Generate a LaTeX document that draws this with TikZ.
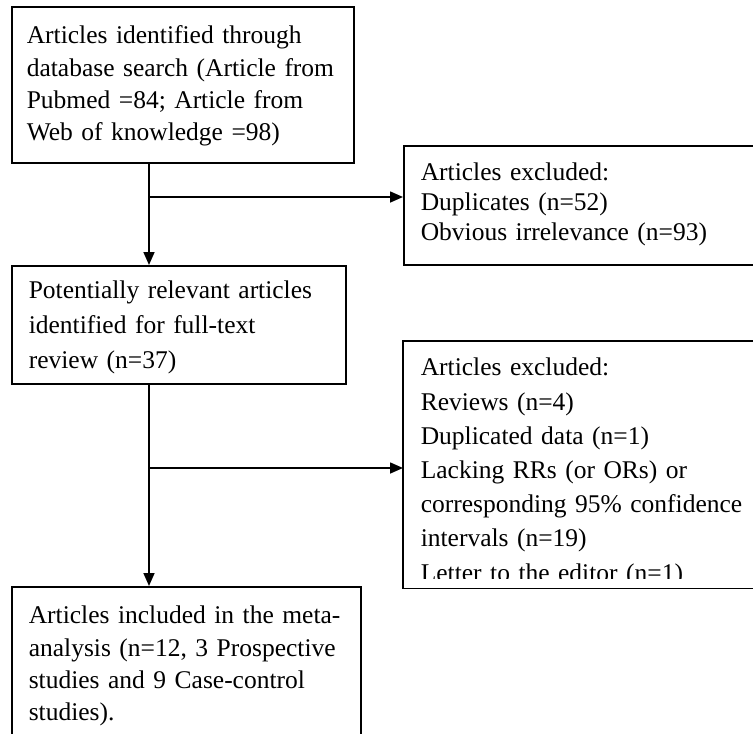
\documentclass[tikz,border=0pt]{standalone}
\usepackage{fontspec}
\setmainfont{Liberation Serif}
\usetikzlibrary{arrows.meta}
\newcommand{\boxfont}[1]{\fontsize{25.5}{#1}\selectfont}
\tikzstyle{flowbox} = [rectangle, draw=black, line width=1.6pt, align=left, anchor=north west, inner xsep=17pt, inner ysep=0pt]
\tikzstyle{arrow} = [line width=1.6pt, -{Triangle[length=13pt,width=11pt]}]
\tikzstyle{frame} = [line width=1.6pt]

\begin{document}
\begin{tikzpicture}[x=1pt, y=1pt]
\useasboundingbox (0,0) rectangle (753,-734);
\clip (0,0) rectangle (753,-734);
\node (search) [flowbox, inner xsep=15pt, text width=312pt, text height=37pt, text depth=119pt, font=\boxfont{32.3}] at (11,-6) {Articles identified through\\database search (Article from\\Pubmed =84; Article from\\Web of knowledge =98)};
\node (excl1) [flowbox, text width=333pt, text height=35pt, text depth=84pt, font=\boxfont{30}] at (403,-145) {Articles excluded:\\Duplicates (n=52)\\Obvious irrelevance (n=93)};
\node (fulltext) [flowbox, text width=300pt, text height=33pt, text depth=85pt, font=\boxfont{35}] at (11,-265) {Potentially relevant articles\\identified for full-text\\review (n=37)};
\begin{scope}
\clip (395,-330) rectangle (780,-578);
\node (excl2) [flowbox, draw=none, text width=333pt, text height=34pt, text depth=212pt, font=\boxfont{34.2}] at (403,-341) {Articles excluded:\\Reviews (n=4)\\Duplicated data (n=1)\\Lacking RRs (or ORs) or\\corresponding 95\% confidence\\intervals (n=19)\\Letter to the editor (n=1)};
\end{scope}
\draw [frame] (excl2.north west) rectangle (excl2.south east);
\node (included) [flowbox, text width=315pt, text height=37pt, text depth=200pt, font=\boxfont{32.3}] at (11,-586) {Articles included in the meta-\\analysis (n=12, 3 Prospective\\studies and 9 Case-control\\studies).};
\coordinate (split1) at (149,-197);
\coordinate (split2) at (149,-468);
\draw [arrow] (search.south -| split1) -- (fulltext.north -| split1);
\draw [arrow] (split1) -- (split1 -| excl1.west);
\draw [arrow] (fulltext.south -| split2) -- (included.north -| split2);
\draw [arrow] (split2) -- (split2 -| excl2.west);
\end{tikzpicture}
\end{document}
